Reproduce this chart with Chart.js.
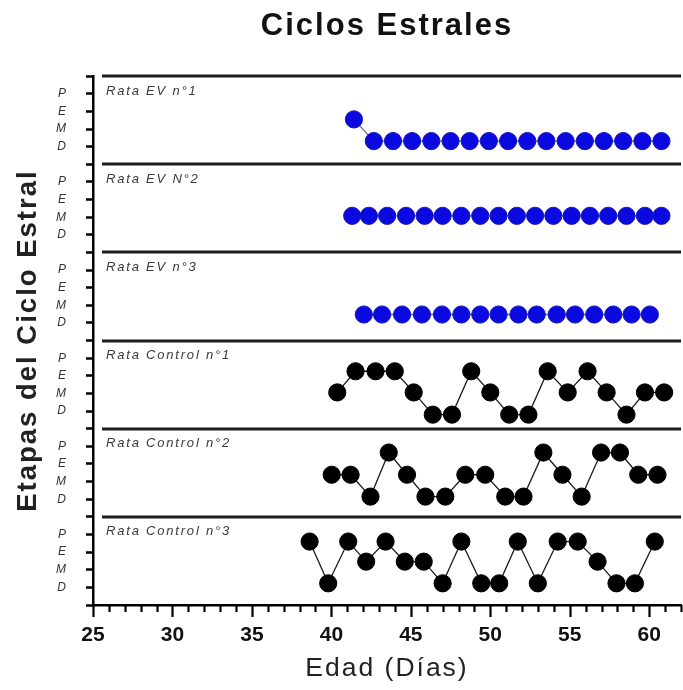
<!DOCTYPE html>
<html>
<head>
<meta charset="utf-8">
<title>Ciclos Estrales</title>
<script src="https://cdn.jsdelivr.net/npm/chart.js@4.4.1/dist/chart.umd.min.js"></script>
<style>
  html, body { margin: 0; padding: 0; background: #fff; overflow: hidden; }
  #wrap { width: 683px; height: 690px; position: relative; }
</style>
</head>
<body>
<div id="wrap"><canvas id="ciclos"></canvas></div>
<script>
// ---- values ----
const panelNames = ['Rata EV n°1', 'Rata EV N°2', 'Rata EV n°3', 'Rata Control n°1', 'Rata Control n°2', 'Rata Control n°3'];
const stageTicks = ['', 'D', 'M', 'E', 'P'];   // 0 = panel border

const ev1Days  = [41.42, 42.67, 43.88, 45.08, 46.29, 47.50, 48.70, 49.91, 51.12, 52.33, 53.53, 54.74, 55.95, 57.15, 58.36, 59.57, 60.77];
const ev1Stage = [2.55, 1.32, 1.32, 1.32, 1.32, 1.32, 1.32, 1.32, 1.32, 1.32, 1.32, 1.32, 1.32, 1.32, 1.32, 1.32, 1.32];

const ev2Days  = [41.31, 42.36, 43.51, 44.70, 45.87, 47.00, 48.18, 49.37, 50.52, 51.67, 52.82, 53.97, 55.12, 56.27, 57.42, 58.57, 59.73, 60.77];
const ev2Stage = [2.08, 2.08, 2.08, 2.08, 2.08, 2.08, 2.08, 2.08, 2.08, 2.08, 2.08, 2.08, 2.08, 2.08, 2.08, 2.08, 2.08, 2.08];

const ev3Days  = [42.04, 43.19, 44.45, 45.70, 46.96, 48.18, 49.37, 50.52, 51.77, 52.92, 54.18, 55.33, 56.54, 57.74, 58.89, 60.04];
const ev3Stage = [1.48, 1.48, 1.48, 1.48, 1.48, 1.48, 1.48, 1.48, 1.48, 1.48, 1.48, 1.48, 1.48, 1.48, 1.48, 1.48];

const ctl1Days  = [40.37, 41.52, 42.78, 43.99, 45.18, 46.38, 47.59, 48.80, 50.00, 51.19, 52.40, 53.61, 54.87, 56.12, 57.32, 58.57, 59.73, 60.94];
const ctl1Stage = [2.06, 3.26, 3.26, 3.26, 2.06, 0.80, 0.80, 3.26, 2.06, 0.80, 0.80, 3.26, 2.06, 3.26, 2.06, 0.80, 2.06, 2.06];

const ctl2Days  = [40.02, 41.21, 42.46, 43.61, 44.76, 45.92, 47.17, 48.43, 49.68, 50.94, 52.09, 53.34, 54.54, 55.75, 56.97, 58.16, 59.31, 60.52];
const ctl2Stage = [2.39, 2.39, 1.15, 3.65, 2.39, 1.15, 1.15, 2.39, 2.39, 1.15, 1.15, 3.65, 2.39, 1.15, 3.65, 3.65, 2.39, 2.39];

const ctl3Days  = [38.63, 39.80, 41.06, 42.19, 43.41, 44.62, 45.81, 47.00, 48.18, 49.43, 50.56, 51.73, 52.99, 54.24, 55.50, 56.75, 57.94, 59.10, 60.35];
const ctl3Stage = [3.60, 1.23, 3.60, 2.46, 3.60, 2.46, 2.46, 1.23, 3.60, 1.23, 1.23, 3.60, 1.23, 3.60, 3.60, 2.46, 1.23, 1.23, 3.60];

const PANEL = 5;   // y units per panel

const seriesDays  = [ev1Days, ev2Days, ev3Days, ctl1Days, ctl2Days, ctl3Days];
const seriesStage = [ev1Stage, ev2Stage, ev3Stage, ctl1Stage, ctl2Stage, ctl3Stage];

const datasets = seriesDays.map((days, p) => {
    const base = (5 - p) * PANEL;
    const isEV = p < 3;
    return {
        label: panelNames[p],
        data: days.map((d, i) => ({ x: d, y: base + seriesStage[p][i] })),
        borderColor: isEV ? '#6b6b7a' : '#1a1a1a',
        borderWidth: 1.3,
        backgroundColor: isEV ? '#0a0ae0' : '#000',
        pointBackgroundColor: isEV ? '#0a0ae0' : '#000',
        pointBorderColor: isEV ? '#1616b8' : '#000',
        pointBorderWidth: 1,
        pointRadius: 8.6,
        tension: 0,
        clip: false
    };
});

// the original titles are letter-spaced; tick labels (z: 1) are drawn after the reset
const spacing = {
    id: 'spacing',
    beforeDraw(chart) { chart.ctx.letterSpacing = '2px'; },
    beforeDatasetsDraw(chart) { chart.ctx.letterSpacing = '0px'; }
};

// horizontal panel dividers + panel names
const panelPlugin = {
    id: 'panels',
    beforeDatasetsDraw(chart) {
        const { ctx, chartArea, scales: { y } } = chart;
        ctx.letterSpacing = '0px';
        ctx.save();
        ctx.strokeStyle = '#1c1c1c';
        ctx.lineWidth = 3;
        for (let k = 1; k <= 6; k++) {
            const py = Math.round(y.getPixelForValue(k * PANEL));
            ctx.beginPath();
            ctx.moveTo(chartArea.left + 9, py);
            ctx.lineTo(chartArea.right, py);
            ctx.stroke();
        }
        ctx.fillStyle = '#3a3a3a';
        ctx.font = 'italic 13px "Liberation Sans", Arial, sans-serif';
        ctx.letterSpacing = '1.8px';
        ctx.textBaseline = 'middle';
        panelNames.forEach((name, p) => {
            const top = y.getPixelForValue((6 - p) * PANEL);
            ctx.fillText(name, chartArea.left + 13, top + 15);
        });
        ctx.restore();
    },
    // x axis ticks: long every 5 days, short every day
    afterDraw(chart) {
        const { ctx, chartArea, scales: { x } } = chart;
        ctx.save();
        ctx.strokeStyle = '#000';
        ctx.lineWidth = 2.2;
        x.ticks.forEach(t => {
            const px = Math.round(x.getPixelForValue(t.value)) + 0.5;
            const len = t.value % 5 === 0 ? 12 : 7;
            ctx.beginPath();
            ctx.moveTo(px, chartArea.bottom);
            ctx.lineTo(px, chartArea.bottom + len);
            ctx.stroke();
        });
        ctx.restore();
    }
};

new Chart(document.getElementById('ciclos'), {
    type: 'line',
    data: { datasets },
    options: {
        responsive: true,
        maintainAspectRatio: false,
        animation: false,
        layout: { autoPadding: false, padding: { left: 0, right: 2, top: 0, bottom: 0 } },
        plugins: {
            legend: { display: false },
            tooltip: { enabled: false },
            title: {
                display: true,
                text: 'Ciclos Estrales',
                fullSize: false,
                color: '#111',
                font: { family: "'Liberation Sans', Arial, sans-serif", size: 31, weight: 'bold' },
                padding: { top: 8, bottom: 31 }
            }
        },
        scales: {
            x: {
                type: 'linear',
                min: 25,
                max: 62,
                afterFit: s => { s.height = 85; s.paddingRight = 0; },
                ticks: {
                    z: 1,
                    stepSize: 1,
                    autoSkip: false,
                    maxRotation: 0,
                    padding: 18,
                    color: '#111',
                    font: { family: "'Liberation Sans Narrow', 'Liberation Sans', sans-serif", size: 21, weight: 'bold' },
                    callback: v => (v % 5 === 0 && v <= 60 ? v : '')
                },
                grid: { drawOnChartArea: false, drawTicks: false },
                border: { color: '#000', width: 2.5 },
                title: {
                    display: true,
                    text: 'Edad (Días)',
                    color: '#222',
                    font: { family: "'Liberation Sans', Arial, sans-serif", size: 26.5 },
                    padding: { top: 0, bottom: 5 }
                }
            },
            y: {
                type: 'linear',
                min: 0,
                max: 6 * PANEL,
                afterFit: s => { s.width = 93; },
                ticks: {
                    z: 1,
                    stepSize: 1,
                    autoSkip: false,
                    padding: 20,
                    color: '#333',
                    font: { family: "'Liberation Sans', Arial, sans-serif", size: 12, style: 'italic' },
                    callback: v => stageTicks[Math.round(v) % PANEL]
                },
                grid: { drawOnChartArea: false, drawTicks: true, tickLength: 7, tickWidth: 2.5, tickColor: '#000' },
                border: { color: '#000', width: 2.5 },
                title: {
                    display: true,
                    text: 'Etapas del Ciclo Estral',
                    color: '#222',
                    font: { family: "'Liberation Sans', Arial, sans-serif", size: 27.5, weight: 'bold' },
                    padding: { top: 12, bottom: 0 }
                }
            }
        }
    },
    plugins: [spacing, panelPlugin]
});
</script>
</body>
</html>
